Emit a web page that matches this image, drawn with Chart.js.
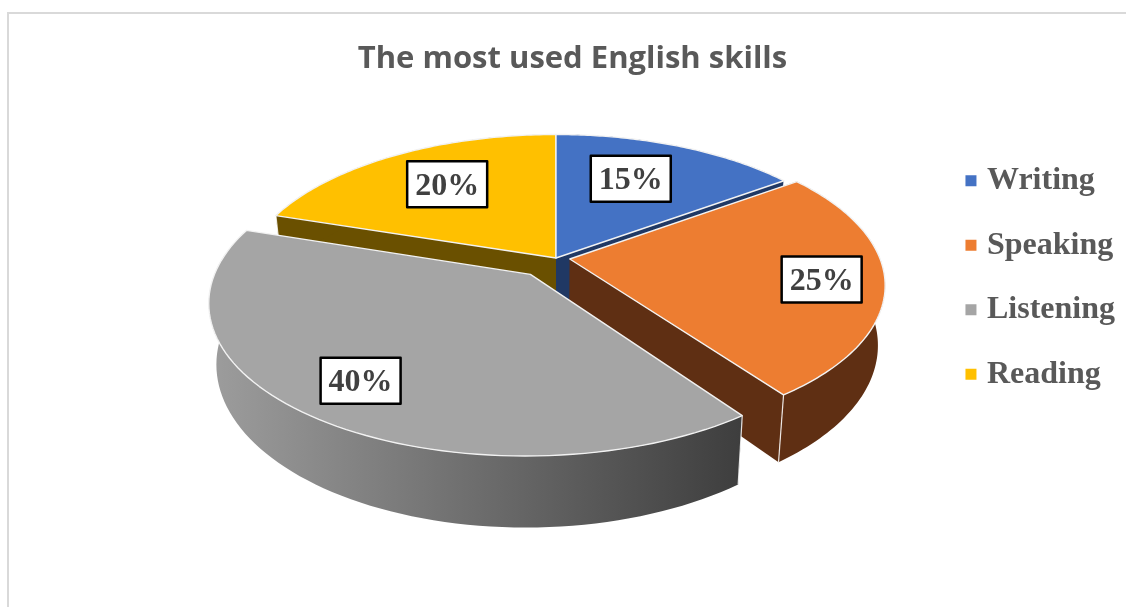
<!DOCTYPE html>
<html>
<head>
<meta charset="utf-8">
<style>
  html, body { margin: 0; padding: 0; background: #fff; overflow: hidden; }
  canvas { display: block; }
</style>
<script src="https://cdn.jsdelivr.net/npm/chart.js@4"></script>
</head>
<body>
<canvas id="skillsChart" width="1126" height="607"></canvas>
<script>
const skills = ['Writing', 'Speaking', 'Listening', 'Reading'];
const shares = [15, 25, 40, 20];

const topColors = ['#4472C4', '#ED7D31', '#A5A5A5', '#FFC000'];
const sideColors = ['#203864', '#5F2F13', null, '#6A5000'];
const explode = [0, 30, 92, 0];
// how far out each label sits on its slice, plus a small nudge in px
const labelRadius = [0.68, 0.80, 0.78, 0.69];
const labelNudge = [[-12, 0], [1, 2], [-4, 0], [6, 0]];

// perspective camera for the tilted disc
const camX = 556, camY = 258, camW = 310, camH = 144.5, camTilt = 0.17;
const depth = 58, floorShrink = 0.978;

function project(u, v) {
  const w = 1 - camTilt * v;
  return { x: camX + camW * u / w, y: camY + camH * v / w, w: w };
}
function floorOf(p) {
  return { x: camX + (p.x - camX) * floorShrink, y: p.y + depth / p.w };
}

function sliceInfo(arc) {
  const mid = (arc.startAngle + arc.endAngle) / 2;
  const push = (arc.options.offset || 0) / 4 / arc.outerRadius;
  return { mid: mid, ou: Math.cos(mid) * push, ov: Math.sin(mid) * push };
}

function rimPoints(arc, info) {
  const pts = [];
  const steps = 80;
  for (let i = 0; i <= steps; i++) {
    const a = arc.startAngle + (arc.endAngle - arc.startAngle) * i / steps;
    pts.push(project(info.ou + Math.cos(a), info.ov + Math.sin(a)));
  }
  return pts;
}

function fillPoly(ctx, pts, fill) {
  ctx.beginPath();
  pts.forEach((p, i) => i ? ctx.lineTo(p.x, p.y) : ctx.moveTo(p.x, p.y));
  ctx.closePath();
  ctx.fillStyle = fill;
  ctx.fill();
}

function drawSide(ctx, arc, index) {
  const info = sliceInfo(arc);
  const rim = rimPoints(arc, info);
  const tip = project(info.ou, info.ov);
  let fill = sideColors[index];
  if (!fill) {
    fill = ctx.createLinearGradient(215, 0, 740, 0);
    fill.addColorStop(0, '#9C9C9C');
    fill.addColorStop(1, '#3E3E3E');
  }
  // radial faces
  [rim[0], rim[rim.length - 1]].forEach(p => {
    fillPoly(ctx, [tip, p, floorOf(p), floorOf(tip)], fill);
  });
  // outer wall
  const wall = rim.concat(rim.slice().reverse().map(floorOf));
  fillPoly(ctx, wall, fill);
  // pale line down the two corners
  ctx.strokeStyle = 'rgba(255,255,255,0.85)';
  ctx.lineWidth = 1.2;
  [rim[0], rim[rim.length - 1]].forEach(p => {
    const f = floorOf(p);
    ctx.beginPath();
    ctx.moveTo(p.x, p.y);
    ctx.lineTo(f.x, f.y);
    ctx.stroke();
  });
}

function drawTop(ctx, arc, index) {
  const info = sliceInfo(arc);
  const pts = [project(info.ou, info.ov)].concat(rimPoints(arc, info));
  fillPoly(ctx, pts, topColors[index]);
  ctx.strokeStyle = '#F2F2F2';
  ctx.lineWidth = 1.4;
  ctx.lineJoin = 'round';
  ctx.stroke();
}

function drawLabel(ctx, arc, index) {
  const info = sliceInfo(arc);
  const r = labelRadius[index];
  const p = project(info.ou + Math.cos(info.mid) * r, info.ov + Math.sin(info.mid) * r);
  const x = p.x + labelNudge[index][0], y = p.y + labelNudge[index][1];
  ctx.fillStyle = '#fff';
  ctx.fillRect(x - 40, y - 23, 80, 46);
  ctx.strokeStyle = '#000';
  ctx.lineWidth = 2.5;
  ctx.strokeRect(x - 40, y - 23, 80, 46);
  ctx.fillStyle = '#404040';
  ctx.font = 'bold 32px "Liberation Serif"';
  ctx.textAlign = 'center';
  ctx.textBaseline = 'middle';
  ctx.fillText(shares[index] + '%', x, y + 2);
}

const tiltedPie = {
  id: 'tiltedPie',
  beforeDraw(chart) {
    const ctx = chart.ctx;
    ctx.save();
    ctx.strokeStyle = '#D9D9D9';
    ctx.lineWidth = 2;
    ctx.beginPath();
    ctx.moveTo(8, 607);
    ctx.lineTo(8, 13);
    ctx.lineTo(1126, 13);
    ctx.stroke();
    ctx.restore();
  },
  beforeDatasetDraw(chart) {
    const ctx = chart.ctx;
    const arcs = chart.getDatasetMeta(0).data;
    const order = [3, 0, 1, 2]; // back to front
    ctx.save();
    order.forEach(i => drawSide(ctx, arcs[i], i));
    order.forEach(i => drawTop(ctx, arcs[i], i));
    order.forEach(i => drawLabel(ctx, arcs[i], i));
    ctx.restore();
    return false;
  }
};

new Chart(document.getElementById('skillsChart'), {
  type: 'pie',
  data: {
    labels: skills,
    datasets: [{
      data: shares,
      backgroundColor: topColors,
      offset: explode,
      borderWidth: 0
    }]
  },
  options: {
    responsive: false,
    animation: false,
    layout: { padding: { left: 20, top: 41, right: 1, bottom: 93 } },
    plugins: {
      tooltip: { enabled: false },
      title: {
        display: true,
        text: 'The most used English skills',
        color: '#595959',
        font: { family: '"Open Sans"', size: 31, weight: 'bold' },
        padding: { top: 0, bottom: 10 }
      },
      legend: {
        position: 'right',
        labels: {
          color: '#595959',
          font: { family: '"Liberation Serif"', size: 32, weight: 'bold' },
          usePointStyle: true,
          pointStyle: 'rect',
          boxWidth: 0.01,
          boxHeight: 11,
          padding: 32.5
        }
      }
    }
  },
  plugins: [tiltedPie]
});
</script>
</body>
</html>
